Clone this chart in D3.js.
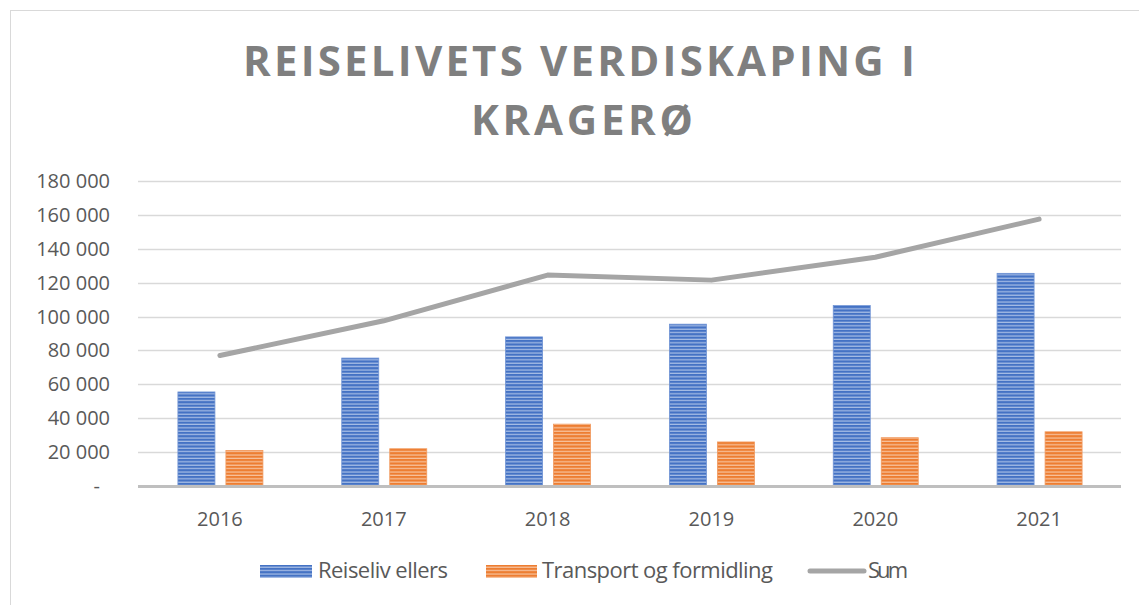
<!DOCTYPE html>
<html>
<head>
<meta charset="utf-8">
<script src="https://cdn.jsdelivr.net/npm/d3@7"></script>
<style>
  body { margin: 0; background: #fff; }
  svg text { font-family: "Open Sans", "Noto Sans", sans-serif; }
</style>
</head>
<body>
<div id="chart"></div>
<script>
var years = ['2016', '2017', '2018', '2019', '2020', '2021'];
var reiselivEllers = [55500, 75500, 88000, 95500, 106500, 125500];
var transport = [21000, 22000, 36500, 26000, 28500, 32000];
var sum = [77000, 97500, 124500, 121500, 135000, 157500];
var yTicks = [0, 20000, 40000, 60000, 80000, 100000, 120000, 140000, 160000, 180000];

var width = 1139, height = 605;
var plotLeft = 138, plotRight = 1121, plotTop = 181, plotBottom = 486;

var svg = d3.select('#chart').append('svg').attr('width', width).attr('height', height);

// striped fills like the original
var defs = svg.append('defs');
function stripes(id, base, light) {
  var p = defs.append('pattern').attr('id', id).attr('patternUnits', 'userSpaceOnUse')
    .attr('width', 6).attr('height', 3.4);
  p.append('rect').attr('width', 6).attr('height', 3.4).attr('fill', base);
  p.append('rect').attr('y', 2.2).attr('width', 6).attr('height', 1.2).attr('fill', light);
}
stripes('blueStripe', '#4472c4', '#a9bfe6');
stripes('orangeStripe', '#ed7d31', '#f7c4a0');

// chart border
svg.append('rect').attr('x', 10.5).attr('y', 10.5).attr('width', 1140).attr('height', 620)
  .attr('fill', 'none').attr('stroke', '#d9d9d9');

// title
var title = svg.append('g').attr('fill', '#7f7f7f').attr('font-weight', 'bold')
  .attr('font-size', 42).attr('text-anchor', 'middle');
title.append('text').attr('x', 579).attr('y', 76).attr('textLength', 672)
  .attr('lengthAdjust', 'spacing').text('REISELIVETS VERDISKAPING I');
title.append('text').attr('x', 582).attr('y', 135).attr('textLength', 222)
  .attr('lengthAdjust', 'spacing').text('KRAGERØ');

var x = d3.scaleBand().domain(years).range([plotLeft, plotRight]);
var y = d3.scaleLinear().domain([0, 180000]).range([plotBottom, plotTop]);

// gridlines
svg.append('g').selectAll('line').data(yTicks.slice(1)).enter().append('line')
  .attr('x1', plotLeft).attr('x2', plotRight)
  .attr('y1', function(d) { return Math.round(y(d)) + 0.5; })
  .attr('y2', function(d) { return Math.round(y(d)) + 0.5; })
  .attr('stroke', '#d9d9d9').attr('stroke-width', 1.3);

// y labels
svg.append('g').selectAll('text').data(yTicks).enter().append('text')
  .attr('x', function(d) { return d === 0 ? 100 : 110; })
  .attr('y', function(d) { return y(d) + 7; })
  .attr('text-anchor', 'end').attr('fill', '#595959').attr('font-size', 20)
  .text(function(d) { return d === 0 ? '-' : d3.format(',')(d).replace(/,/g, ' '); });

var barW = 37;
// bars
svg.append('g').selectAll('rect').data(reiselivEllers).enter().append('rect')
  .attr('x', function(d, i) { return x(years[i]) + x.bandwidth() / 2 - 5 - barW; })
  .attr('y', function(d) { return y(d); })
  .attr('width', barW)
  .attr('height', function(d) { return plotBottom - y(d); })
  .attr('fill', 'url(#blueStripe)').attr('stroke', '#6f93d4').attr('stroke-width', 0.8);

svg.append('g').selectAll('rect').data(transport).enter().append('rect')
  .attr('x', function(d, i) { return x(years[i]) + x.bandwidth() / 2 + 6; })
  .attr('y', function(d) { return y(d); })
  .attr('width', barW)
  .attr('height', function(d) { return plotBottom - y(d); })
  .attr('fill', 'url(#orangeStripe)').attr('stroke', '#f19a5f').attr('stroke-width', 0.8);

// x axis line
svg.append('line').attr('x1', plotLeft).attr('x2', plotRight).attr('y1', plotBottom + 0.5).attr('y2', plotBottom + 0.5)
  .attr('stroke', '#bfbfbf').attr('stroke-width', 3);

// x labels
svg.append('g').selectAll('text').data(years).enter().append('text')
  .attr('x', function(d) { return x(d) + x.bandwidth() / 2; })
  .attr('y', 526).attr('text-anchor', 'middle').attr('fill', '#595959').attr('font-size', 20)
  .text(function(d) { return d; });

// sum line
var line = d3.line()
  .x(function(d, i) { return x(years[i]) + x.bandwidth() / 2; })
  .y(function(d) { return y(d); });
svg.append('path').datum(sum).attr('d', line).attr('fill', 'none')
  .attr('stroke', '#a5a5a5').attr('stroke-width', 5).attr('stroke-linecap', 'round')
  .attr('stroke-linejoin', 'round');

// legend
var lg = svg.append('g').attr('font-size', 22).attr('fill', '#595959');
lg.append('rect').attr('x', 260).attr('y', 565).attr('width', 52).attr('height', 13).attr('fill', 'url(#blueStripe)');
lg.append('text').attr('x', 318).attr('y', 578).attr('textLength', 130).text('Reiseliv ellers');
lg.append('rect').attr('x', 486).attr('y', 565).attr('width', 51).attr('height', 13).attr('fill', 'url(#orangeStripe)');
lg.append('text').attr('x', 542).attr('y', 578).attr('textLength', 231).text('Transport og formidling');
lg.append('line').attr('x1', 810).attr('x2', 864).attr('y1', 571).attr('y2', 571)
  .attr('stroke', '#a5a5a5').attr('stroke-width', 5).attr('stroke-linecap', 'round');
lg.append('text').attr('x', 868).attr('y', 578).attr('textLength', 40).text('Sum');
</script>
</body>
</html>
